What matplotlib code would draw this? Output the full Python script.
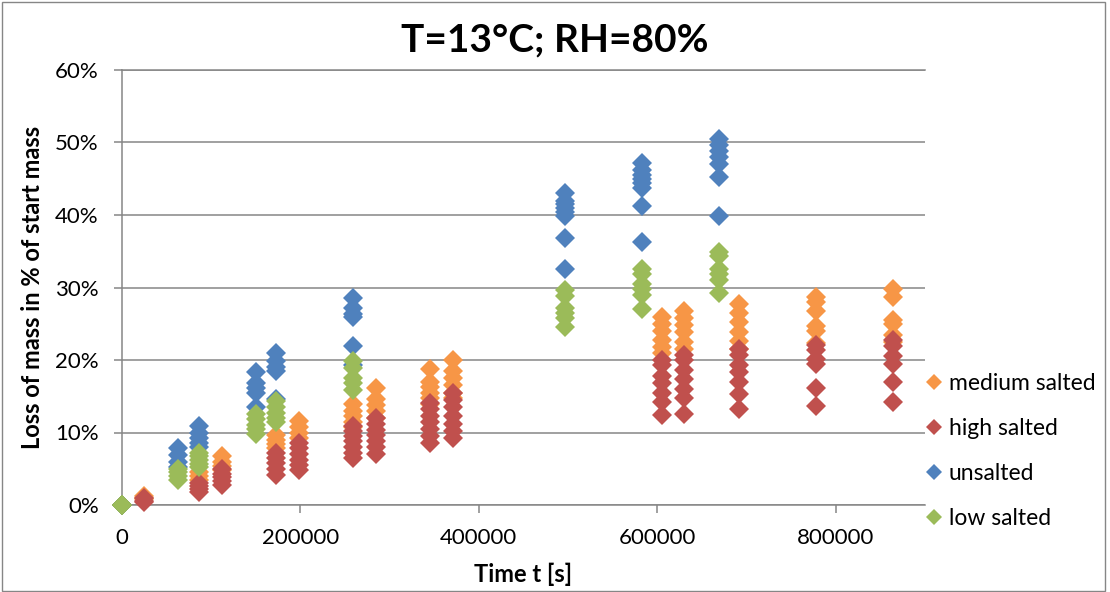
import numpy as np
import matplotlib
matplotlib.use("Agg")
import matplotlib.pyplot as plt
from matplotlib.patches import Rectangle
from matplotlib.ticker import FuncFormatter, MultipleLocator

plt.rcParams['font.family'] = ['Lato', 'DejaVu Sans']

# ---- measurements: sampling time [s] and mass loss [%] of each specimen ----
medium_times = [0, 25200, 86400, 111600, 172800, 198000, 259200, 284400,
                345600, 370800, 604800, 630000, 691200, 777600, 864000]
medium_loss = [
    [0, 0, 0],
    [1.3, 1.0, 0.8],
    [4.6, 4.0, 3.4],
    [6.8, 6.0, 5.4, 4.8],
    [9.6, 9.0, 8.4, 7.8],
    [11.6, 10.8, 10.0, 9.2],
    [14.0, 13.0, 12.3, 11.5, 10.8],
    [16.1, 14.6, 13.8, 13.0, 12.0],
    [18.7, 17.0, 16.3, 15.5, 14.8, 14.0],
    [20.0, 18.5, 17.5, 16.5, 15.5, 14.8],
    [25.9, 25.0, 24.0, 22.8, 21.8, 21.0],
    [26.8, 25.8, 24.8, 23.8, 22.5, 21.5],
    [27.7, 26.5, 25.2, 23.8, 22.6, 21.5],
    [28.7, 28.0, 26.8, 24.7, 24.0, 22.3],
    [29.8, 28.7, 25.5, 25.0, 23.5, 22.5],
]

high_times = medium_times
high_loss = [
    [0, 0, 0],
    [0.9, 0.6, 0.4],
    [3.0, 2.6, 2.2, 1.8],
    [4.9, 4.3, 3.8, 3.3, 2.7],
    [7.2, 6.5, 5.8, 5.0, 4.1],
    [8.6, 7.8, 7.0, 6.2, 5.5, 4.8],
    [10.9, 10.2, 9.5, 8.8, 8.0, 7.2, 6.5],
    [12.0, 11.2, 10.4, 9.6, 8.8, 8.0, 7.1],
    [14.1, 13.2, 12.3, 11.5, 10.5, 9.5, 8.5],
    [15.5, 14.5, 13.5, 12.3, 11.2, 10.2, 9.2],
    [20.0, 19.3, 17.8, 16.8, 15.5, 14.2, 12.4],
    [20.7, 20.0, 18.6, 17.4, 16.0, 14.7, 12.6],
    [21.5, 20.7, 19.3, 18.3, 17.0, 15.3, 13.2],
    [22.1, 21.4, 20.2, 19.4, 16.2, 13.7],
    [22.8, 22.0, 20.5, 19.5, 17.0, 14.2],
]

unsalted_times = [0, 63000, 86400, 150000, 172800, 259200, 496800, 583200, 669600]
unsalted_loss = [
    [0, 0, 0],
    [7.9, 6.9, 6.0, 5.3],
    [10.9, 10.0, 9.3, 8.5, 8.0],
    [18.3, 16.8, 16.2, 15.5, 13.5],
    [21.0, 19.8, 19.0, 18.5, 14.6],
    [28.5, 27.2, 26.4, 26.0, 22.0, 19.3],
    [43.0, 42.0, 41.5, 41.0, 40.4, 39.8, 36.8, 32.6],
    [47.2, 46.2, 45.5, 45.0, 44.4, 43.7, 41.2, 36.3],
    [50.5, 49.7, 48.8, 48.0, 47.0, 45.3, 39.9],
]

low_times = unsalted_times
low_loss = [
    [0, 0, 0],
    [5.0, 4.5, 4.0, 3.5],
    [7.2, 6.8, 6.2, 5.7, 5.2],
    [12.5, 11.8, 11.0, 10.5, 9.8],
    [14.3, 13.5, 12.7, 12.0, 11.4],
    [19.9, 18.9, 17.5, 16.8, 15.9],
    [29.7, 28.8, 27.2, 26.5, 25.8, 24.6],
    [32.6, 31.8, 30.5, 29.8, 29.0, 27.0],
    [34.9, 34.3, 32.5, 31.8, 31.0, 29.2],
]

series_names = ["medium salted", "high salted", "unsalted", "low salted"]
series_colors = ["#F79646", "#C0504D", "#4F81BD", "#9BBB59"]
series_data = [(medium_times, medium_loss), (high_times, high_loss),
               (unsalted_times, unsalted_loss), (low_times, low_loss)]

x_ticks = [0, 200000, 400000, 600000, 800000]


def flatten(times, losses):
    xs = [t for t, vals in zip(times, losses) for _ in vals]
    ys = [v / 100.0 for vals in losses for v in vals]
    return np.array(xs), np.array(ys)


W, H = 1110, 592
fig = plt.figure(figsize=(W / 100, H / 100), dpi=100)
ax = fig.add_axes([122 / W, (H - 505) / H, (925 - 122) / W, (505 - 70) / H])

grey = "#868686"

handles = []
for name, color, (times, losses) in zip(series_names, series_colors, series_data):
    xs, ys = flatten(times, losses)
    h, = ax.plot(xs, ys, linestyle="none", marker="D", ms=10, mew=0,
                 color=color, label=name, clip_on=False, zorder=3)
    handles.append(h)

ax.set_xlim(0, 900000)
ax.set_ylim(0, 0.6)
ax.set_xticks(x_ticks)
ax.yaxis.set_major_locator(MultipleLocator(0.1))
ax.xaxis.set_major_formatter(FuncFormatter(lambda v, p: f"{int(v)}"))
ax.yaxis.set_major_formatter(FuncFormatter(lambda v, p: f"{v * 100:.0f}%"))

ax.yaxis.grid(True, color=grey, lw=1.1)
ax.set_axisbelow(True)
for side in ("left", "bottom", "top"):
    ax.spines[side].set_color(grey)
    ax.spines[side].set_linewidth(1.1)
ax.spines["right"].set_visible(False)

ax.tick_params(axis="both", direction="out", length=5.8, width=1.1,
               color=grey, labelsize=16, labelcolor="black", pad=11)
ax.tick_params(axis="x", top=False)

fig.text(0.5, 1 - 40 / H, "T=13°C; RH=80%", ha="center", va="center",
         fontsize=28, fontweight="bold")
fig.text(523 / W, 1 - 574 / H, "Time t [s]", ha="center", va="center",
         fontsize=17, fontweight="bold")
fig.text(33 / W, 1 - 287 / H, "Loss of mass in % of start mass", ha="center",
         va="center", rotation=90, fontsize=17, fontweight="bold")

fig.legend(handles=handles, loc="upper left",
           bbox_to_anchor=(927 / W, 1 - 373 / H), bbox_transform=fig.transFigure,
           frameon=False, fontsize=16.5, handlelength=0.6, handletextpad=0.35,
           borderpad=0, borderaxespad=0, labelspacing=1.05, markerscale=0.85)

fig.patches.append(Rectangle((2 / W, 1 / H), (1105 - 2) / W, (590 - 1) / H,
                             transform=fig.transFigure, fill=False,
                             edgecolor=grey, lw=1))

fig.savefig("out.png", dpi=100)
